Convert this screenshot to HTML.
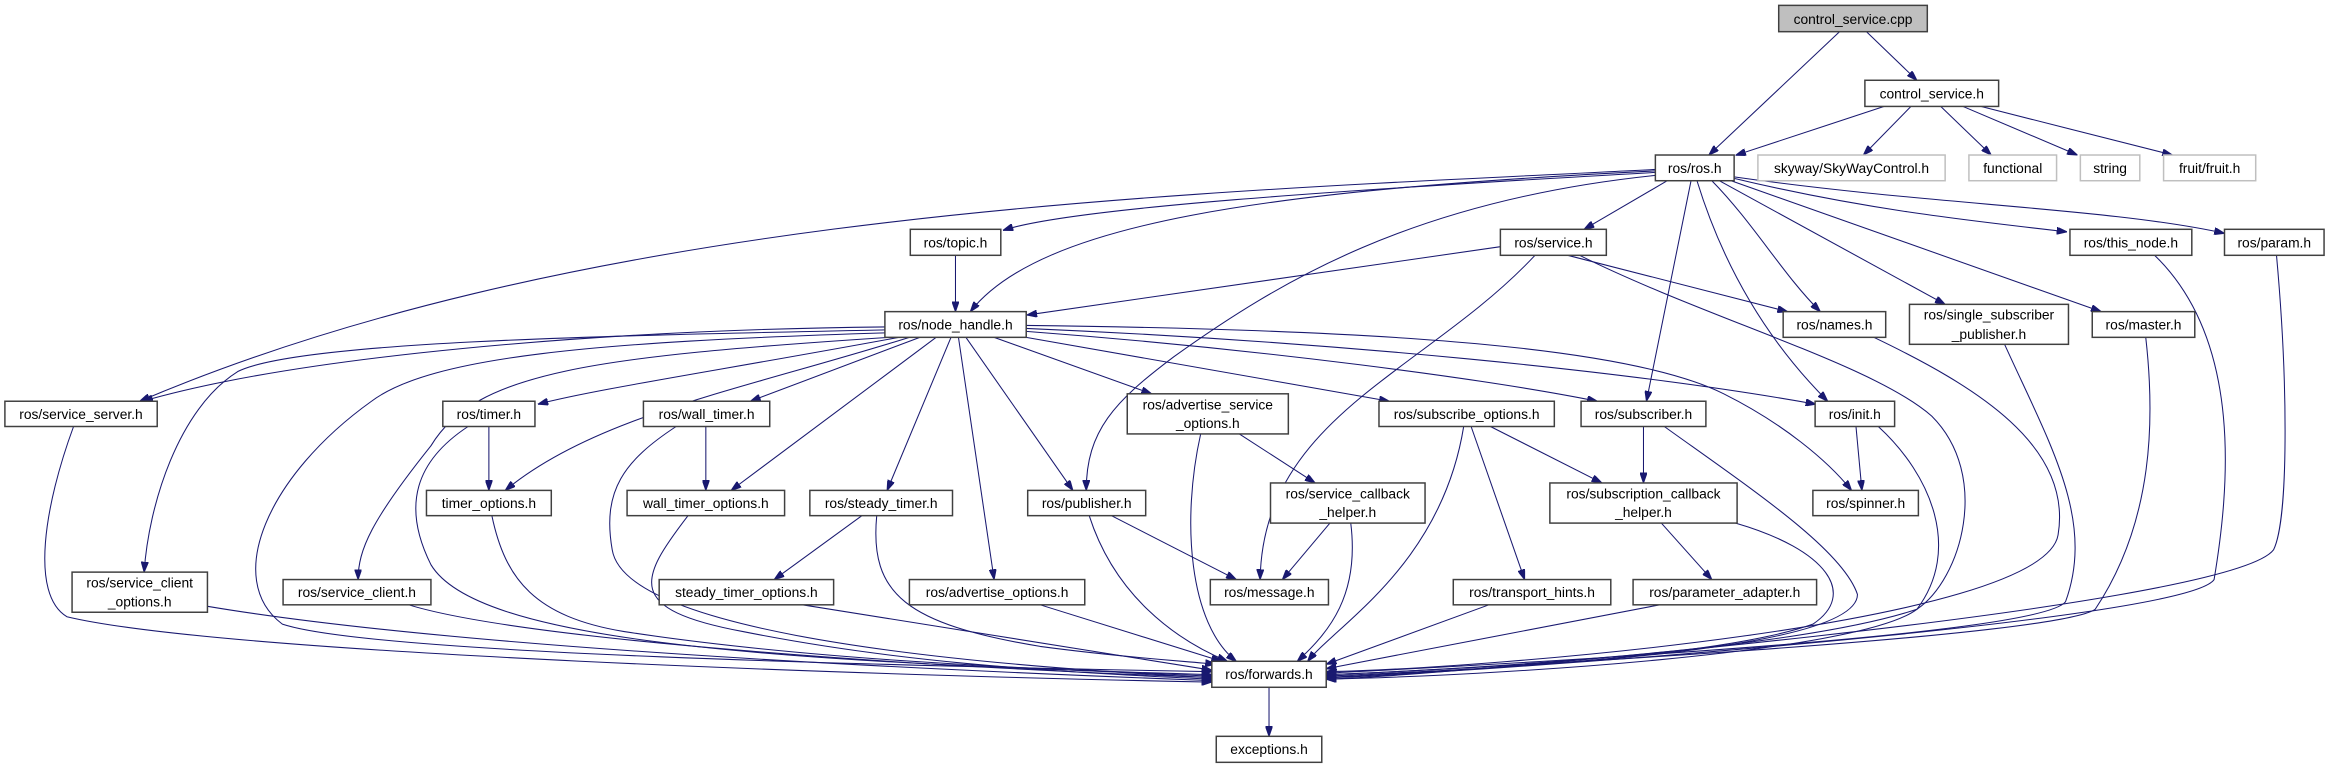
<!DOCTYPE html>
<html><head><meta charset="utf-8"><style>
html,body{margin:0;padding:0;background:#fff;}
svg{display:block;}
.e{fill:none;stroke:#191970;stroke-width:0.7;marker-end:url(#a);}
.n{fill:#fff;stroke:#404040;stroke-width:1;}
.g{fill:#fff;stroke:#bfbfbf;stroke-width:1;}
text{font-family:"Liberation Sans",sans-serif;font-size:9.3px;text-anchor:middle;fill:#000;}
</style></head><body>
<svg width="2330" height="768" viewBox="0 0 1568 516.8" xmlns="http://www.w3.org/2000/svg">
<defs><marker id="a" markerUnits="userSpaceOnUse" markerWidth="7" markerHeight="4.8" viewBox="0 0 10 7" refX="10" refY="3.5" orient="auto"><polygon points="0,0 10,3.5 0,7" fill="#191970" stroke="#191970"/></marker></defs>
<rect width="1568" height="516.8" fill="#fff"/>
<!-- edges -->
<path class="e" d="M1238,21.3 L1150,104.3"/>
<path class="e" d="M1256,21.3 L1290,54"/>
<path class="e" d="M1268,71.6 L1168,104.5"/>
<path class="e" d="M1286,71.6 L1254,104.3"/>
<path class="e" d="M1306,71.6 L1340,104.3"/>
<path class="e" d="M1321,71.6 L1398,104.3"/>
<path class="e" d="M1333,71.6 L1462,104.3"/>
<path class="e" d="M1122,121.6 L1066,154.3"/>
<path class="e" d="M1152,121.6 C1180,150 1200,185 1225,209.7"/>
<path class="e" d="M1157,121.6 L1309,204.8"/>
<path class="e" d="M1165,121.6 L1414,209.7"/>
<path class="e" d="M1167,120 C1250,140 1320,148 1391,156"/>
<path class="e" d="M1167,119 C1300,138 1420,140 1497,157"/>
<path class="e" d="M1138,121.6 L1108,270"/>
<path class="e" d="M1142,121.6 C1160,180 1190,230 1230,270"/>
<path class="e" d="M1114,118 C950,135 860,190 790,240 C750,270 731,290 731,330"/>
<path class="e" d="M1114,116 C900,128 720,140 675,155"/>
<path class="e" d="M1114,115 C850,128 700,150 653,209.7"/>
<path class="e" d="M1114,114 C800,130 400,140 94,270"/>
<path class="e" d="M643,171.8 L643,209.7"/>
<path class="e" d="M1009.7,166 L691,212"/>
<path class="e" d="M1055,171.8 L1203,209.7"/>
<path class="e" d="M1033,171.8 C960,250 850,280 848,390"/>
<path class="e" d="M1063,171.8 C1150,215 1260,245 1300,280 C1340,320 1320,390 1290,410 C1200,440 950,452 892.5,454"/>
<path class="e" d="M595.5,220 C400,222 200,240 96,270"/>
<path class="e" d="M595.5,222 C400,226 200,230 160,250 C120,275 100,340 97,385"/>
<path class="e" d="M595.5,224 C400,230 290,240 250,270 C180,320 150,390 190,420 C250,440 600,448 815.5,452"/>
<path class="e" d="M598,227 C400,240 320,250 290,300 C250,350 241,370 241,390"/>
<path class="e" d="M605,227 C480,250 400,262 362,272"/>
<path class="e" d="M612,227 C500,262 400,280 340,330"/>
<path class="e" d="M619,227 L505,270"/>
<path class="e" d="M630,227 L492,330"/>
<path class="e" d="M640,227 L597,330"/>
<path class="e" d="M645,227 L669,390"/>
<path class="e" d="M650,227 L722,330"/>
<path class="e" d="M669,227 L775,265"/>
<path class="e" d="M690.6,227 L935,270"/>
<path class="e" d="M690.6,223 C850,235 1000,255 1075,270"/>
<path class="e" d="M690.6,221 C900,230 1100,250 1222,272"/>
<path class="e" d="M690.6,219 C950,222 1100,235 1160,265 C1200,285 1230,310 1246,330"/>
<path class="e" d="M329,287 L329,330"/>
<path class="e" d="M315,287 C280,310 270,340 290,380 C320,430 500,445 815.5,454"/>
<path class="e" d="M331,347 C340,390 360,415 420,425 C550,445 700,450 815.5,455"/>
<path class="e" d="M475,287 L475,330"/>
<path class="e" d="M455,287 C420,310 405,330 412,370 C420,420 600,445 815.5,456"/>
<path class="e" d="M463,347 C430,390 420,410 500,425 C600,445 700,452 815.5,457"/>
<path class="e" d="M580,347 L521,390"/>
<path class="e" d="M590,347 C585,400 610,420 700,435 C760,443 800,445 818,447"/>
<path class="e" d="M540,407 L815.5,451"/>
<path class="e" d="M139.6,408 C300,435 600,450 815.5,458"/>
<path class="e" d="M275,407 C350,430 600,448 815.5,456"/>
<path class="e" d="M49.5,287 C30,340 20,400 45,415 C150,440 600,455 815.5,459"/>
<path class="e" d="M700,407 L822,445"/>
<path class="e" d="M748,347 L832,390"/>
<path class="e" d="M733,347 C750,400 790,430 826,445"/>
<path class="e" d="M834,292 L885,325"/>
<path class="e" d="M808,292 C795,350 800,420 832,445"/>
<path class="e" d="M895,352 L863,390"/>
<path class="e" d="M909,352 C915,400 895,425 873,445"/>
<path class="e" d="M1003,287 L1078,325"/>
<path class="e" d="M990,287 L1026,390"/>
<path class="e" d="M985,287 C970,380 900,420 880,445"/>
<path class="e" d="M1002,407 L892.5,447"/>
<path class="e" d="M1106,287 L1106,325"/>
<path class="e" d="M1120,287 C1180,330 1240,370 1250,400 C1250,440 1000,450 892.5,455"/>
<path class="e" d="M1118,352 L1152,390"/>
<path class="e" d="M1168,352 C1230,370 1250,400 1220,420 C1150,445 950,452 892.5,456"/>
<path class="e" d="M1117,407 L892.5,450"/>
<path class="e" d="M1249,287 L1253,330"/>
<path class="e" d="M1264,287 C1300,320 1320,370 1290,410 C1250,440 1000,455 892.5,457"/>
<path class="e" d="M1261,227 C1330,260 1395,300 1385,360 C1375,420 1000,450 892.5,452"/>
<path class="e" d="M1349,231.7 C1380,300 1410,350 1390,405 C1370,430 950,450 892.5,453"/>
<path class="e" d="M1444,227 C1450,280 1450,350 1410,410 C1380,430 950,452 892.5,454"/>
<path class="e" d="M1450,171.8 C1510,230 1500,330 1490,390 C1470,420 950,455 892.5,456"/>
<path class="e" d="M1532,171.8 C1540,260 1540,350 1530,370 C1500,410 950,456 892.5,457"/>
<path class="e" d="M854,462.5 L854,495.5"/>
<!-- nodes -->
<rect x="1197" y="3.6" width="100" height="17.7" fill="#bfbfbf" stroke="#404040" stroke-width="1"/><text x="1247" y="16">control_service.cpp</text>
<rect class="n" x="1255" y="54" width="90" height="17.6"/><text x="1300" y="66.3">control_service.h</text>
<rect class="n" x="1114" y="104.3" width="53" height="17.3"/><text x="1140.5" y="116.5">ros/ros.h</text>
<rect class="g" x="1183" y="104.3" width="126" height="17.3"/><text x="1246" y="116.5">skyway/SkyWayControl.h</text>
<rect class="g" x="1325" y="104.3" width="59" height="17.3"/><text x="1354.5" y="116.5">functional</text>
<rect class="g" x="1400" y="104.3" width="40" height="17.3"/><text x="1420" y="116.5">string</text>
<rect class="g" x="1456" y="104.3" width="62" height="17.3"/><text x="1487" y="116.5">fruit/fruit.h</text>
<rect class="n" x="612.6" y="154.3" width="60.9" height="17.5"/><text x="643" y="166.4">ros/topic.h</text>
<rect class="n" x="1009.7" y="154.3" width="71.3" height="17.5"/><text x="1045.4" y="166.4">ros/service.h</text>
<rect class="n" x="1393" y="154.3" width="82" height="17.5"/><text x="1434" y="166.4">ros/this_node.h</text>
<rect class="n" x="1497" y="154.3" width="67" height="17.5"/><text x="1530.5" y="166.4">ros/param.h</text>
<rect class="n" x="595.5" y="209.7" width="95.1" height="17.3"/><text x="643" y="221.7">ros/node_handle.h</text>
<rect class="n" x="1200" y="209.7" width="69" height="17.3"/><text x="1234.5" y="221.7">ros/names.h</text>
<rect class="n" x="1285" y="204.8" width="107" height="26.9"/><text x="1338.5" y="215">ros/single_subscriber</text><text x="1338.5" y="228">_publisher.h</text>
<rect class="n" x="1408" y="209.7" width="69" height="17.3"/><text x="1442.5" y="221.7">ros/master.h</text>
<rect class="n" x="3.3" y="270" width="102.5" height="17"/><text x="54.5" y="281.8">ros/service_server.h</text>
<rect class="n" x="298" y="270" width="62" height="17"/><text x="329" y="281.8">ros/timer.h</text>
<rect class="n" x="433" y="270" width="85" height="17"/><text x="475.5" y="281.8">ros/wall_timer.h</text>
<rect class="n" x="758.6" y="265" width="108.4" height="27"/><text x="812.8" y="275.5">ros/advertise_service</text><text x="812.8" y="288">_options.h</text>
<rect class="n" x="928" y="270" width="118" height="17"/><text x="987" y="281.8">ros/subscribe_options.h</text>
<rect class="n" x="1064" y="270" width="84" height="17"/><text x="1106" y="281.8">ros/subscriber.h</text>
<rect class="n" x="1221.5" y="270" width="53.5" height="17"/><text x="1248.2" y="281.8">ros/init.h</text>
<rect class="n" x="287" y="330" width="84" height="17"/><text x="329" y="341.8">timer_options.h</text>
<rect class="n" x="422" y="330" width="106" height="17"/><text x="475" y="341.8">wall_timer_options.h</text>
<rect class="n" x="545" y="330" width="96" height="17"/><text x="593" y="341.8">ros/steady_timer.h</text>
<rect class="n" x="691.6" y="330" width="79.4" height="17"/><text x="731.3" y="341.8">ros/publisher.h</text>
<rect class="n" x="855" y="325" width="104" height="27"/><text x="907" y="335.5">ros/service_callback</text><text x="907" y="348">_helper.h</text>
<rect class="n" x="1043" y="325" width="126" height="27"/><text x="1106" y="335.5">ros/subscription_callback</text><text x="1106" y="348">_helper.h</text>
<rect class="n" x="1220" y="330" width="71" height="17"/><text x="1255.5" y="341.8">ros/spinner.h</text>
<rect class="n" x="48.5" y="385" width="91.1" height="27"/><text x="94" y="395.5">ros/service_client</text><text x="94" y="408">_options.h</text>
<rect class="n" x="190.5" y="390" width="99.5" height="17"/><text x="240.2" y="401.8">ros/service_client.h</text>
<rect class="n" x="443.6" y="390" width="117.4" height="17"/><text x="502.3" y="401.8">steady_timer_options.h</text>
<rect class="n" x="612" y="390" width="118" height="17"/><text x="671" y="401.8">ros/advertise_options.h</text>
<rect class="n" x="814.5" y="390" width="79.5" height="17"/><text x="854.2" y="401.8">ros/message.h</text>
<rect class="n" x="978" y="390" width="106" height="17"/><text x="1031" y="401.8">ros/transport_hints.h</text>
<rect class="n" x="1099" y="390" width="123.5" height="17"/><text x="1160.7" y="401.8">ros/parameter_adapter.h</text>
<rect class="n" x="815.5" y="445" width="77" height="17.5"/><text x="854" y="457">ros/forwards.h</text>
<rect class="n" x="818.5" y="495.5" width="71" height="17.5"/><text x="854" y="507.5">exceptions.h</text>
</svg>
</body></html>
